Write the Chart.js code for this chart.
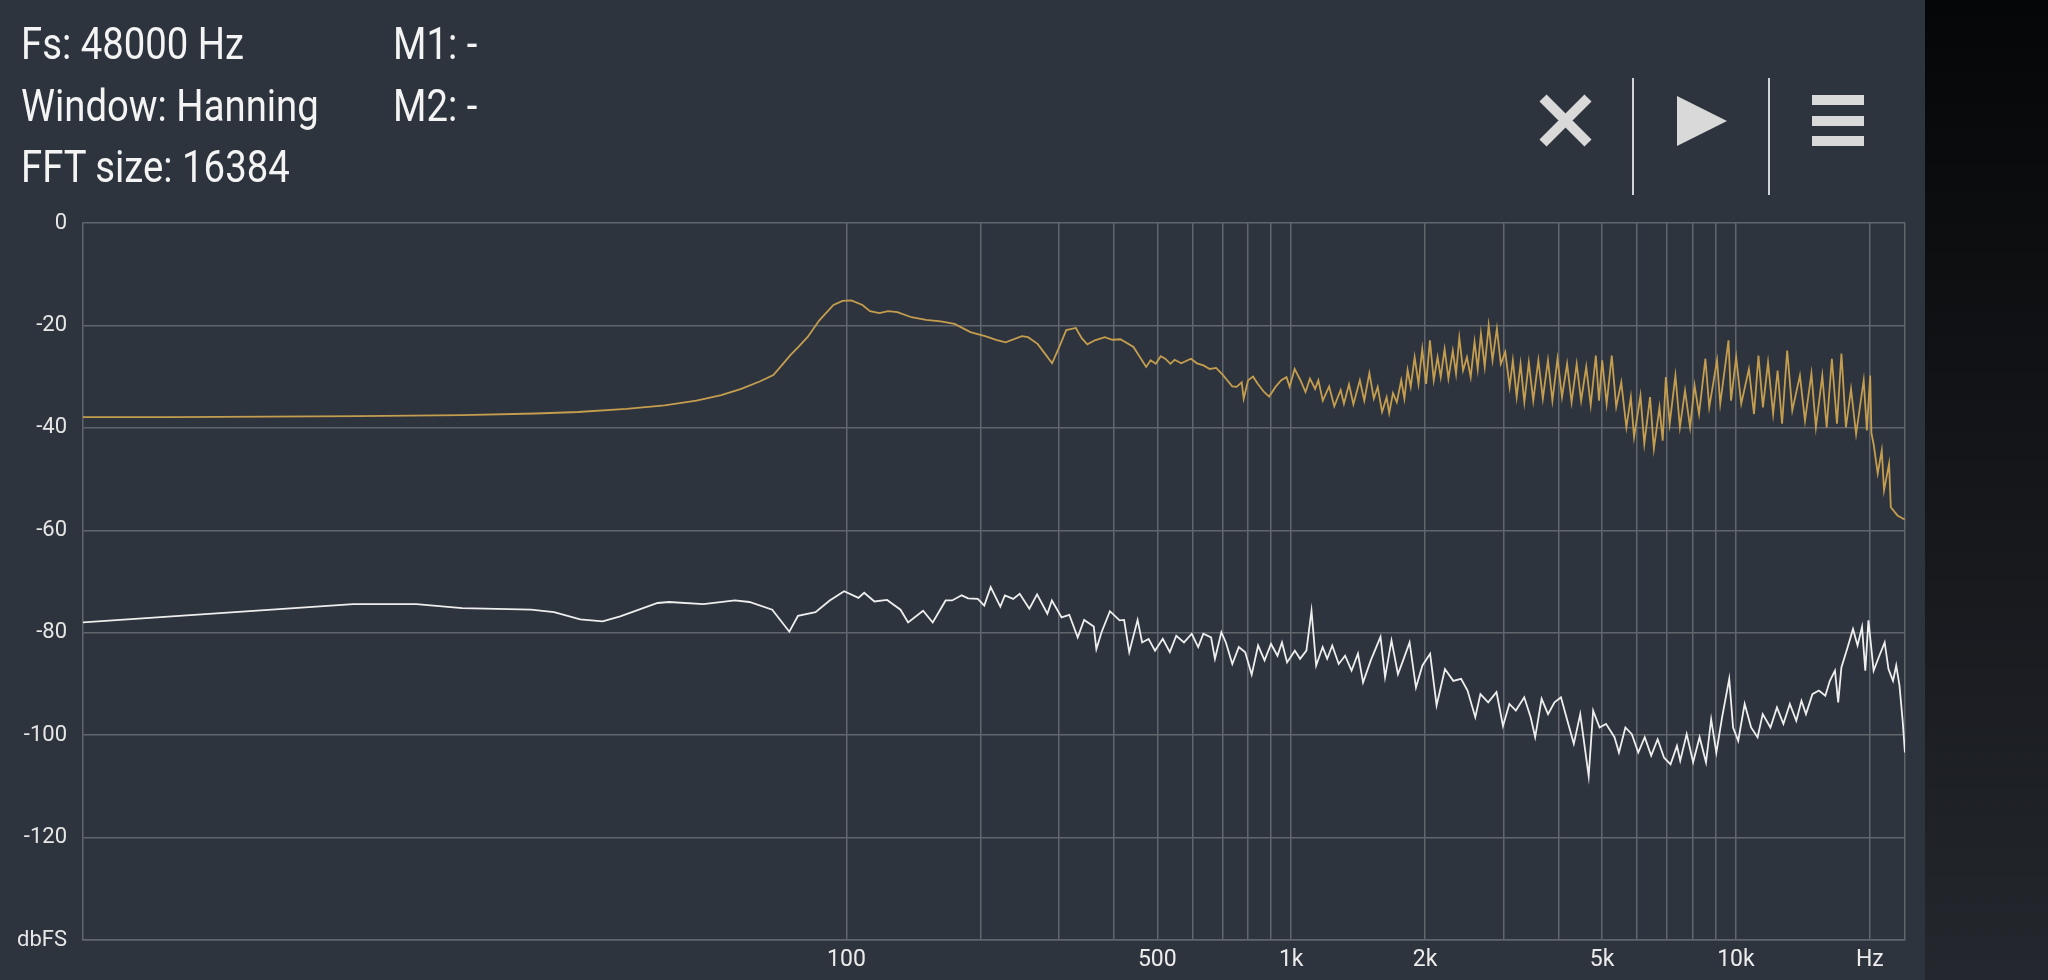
<!DOCTYPE html>
<html>
<head>
<meta charset="utf-8">
<script src="https://cdn.jsdelivr.net/npm/chart.js@4.4.1/dist/chart.umd.min.js"></script>
<style>
  html, body { margin: 0; padding: 0; background: #2e343d; overflow: hidden; }
  #wrap { position: relative; width: 2048px; height: 980px; }
  canvas { position: absolute; left: 0; top: 0; }
  .info {
    position: absolute; font-family: Roboto, sans-serif; font-size: 44px; line-height: 44px;
    color: #f4f4f4; white-space: nowrap; transform: scaleX(0.87); transform-origin: left top;
  }
</style>
</head>
<body>
<div id="wrap">
  <canvas id="spectrum" width="2048" height="980"></canvas>
  <div class="info" style="left:21px; top:22px;">Fs: 48000 Hz</div>
  <div class="info" style="left:21px; top:84px;">Window: Hanning</div>
  <div class="info" style="left:21px; top:145px;">FFT size: 16384</div>
  <div class="info" style="left:393px; top:22px;">M1: -</div>
  <div class="info" style="left:393px; top:84px;">M2: -</div>
</div>
<script>
// gold trace (Hz / dBFS)
const goldFreq = [
  1.92, 3, 5, 8, 13.7, 20, 24.9, 32, 39, 46,
  52.3, 58, 64, 68.5, 72, 74.8, 78, 81.9, 86.9, 93.5,
  98, 102.6, 108.6, 113, 118.6, 124, 130.2, 140, 151, 163,
  175, 190, 205, 217, 228, 248, 256, 269, 280, 290,
  300, 312, 328, 338, 348, 362, 381, 396, 413, 442,
  472, 483, 496, 509, 521, 535, 547, 566, 595, 614,
  635, 656, 678, 701, 718, 737, 754, 774, 782, 800,
  821, 841, 869, 892, 922, 950, 976, 992, 1018, 1049,
  1077, 1102, 1132, 1151, 1178, 1217, 1250, 1292, 1314, 1349,
  1380, 1427, 1460, 1499, 1534, 1565, 1601, 1639, 1661, 1694,
  1728, 1768, 1797, 1827, 1857, 1895, 1933, 1971, 2011, 2051,
  2092, 2134, 2169, 2213, 2257, 2309, 2348, 2388, 2435, 2484,
  2533, 2584, 2627, 2671, 2724, 2780, 2836, 2901, 2960, 3029,
  3099, 3151, 3214, 3279, 3344, 3422, 3502, 3596, 3680, 3779,
  3867, 3971, 4064, 4173, 4271, 4385, 4487, 4607, 4715, 4842,
  4922, 5004, 5121, 5258, 5381, 5524, 5672, 5804, 5902, 6101,
  6223, 6411, 6539, 6732, 6845, 6958, 7097, 7311, 7483, 7684,
  7888, 8073, 8262, 8539, 8710, 9069, 9220, 9623, 9752, 10012,
  10280, 10696, 10983, 11238, 11502, 11809, 12125, 12410, 12700, 13040,
  13390, 13930, 14300, 14785, 15130, 15640, 16000, 16435, 16875, 17270,
  17676, 18150, 18630, 19380, 19700, 20040, 20170, 20420, 20840, 21280,
  21530, 22100, 22300, 23080, 23970
];
const goldDb = [
  -37.9, -37.9, -37.8, -37.7, -37.5, -37.2, -36.9, -36.3, -35.6, -34.7,
  -33.6, -32.4, -30.9, -29.7, -27.5, -25.8, -24.2, -22.2, -19.0, -16.0,
  -15.2, -15.1, -16.0, -17.2, -17.6, -17.2, -17.4, -18.4, -18.9, -19.2,
  -19.7, -21.3, -22.1, -22.8, -23.3, -22.1, -22.3, -23.6, -25.6, -27.4,
  -24.5, -20.9, -20.5, -22.5, -23.7, -22.9, -22.3, -22.8, -22.7, -24.2,
  -28.1, -26.8, -27.5, -26.0, -26.5, -27.5, -26.7, -27.4, -26.5, -27.4,
  -27.8, -28.5, -28.3, -29.6, -30.7, -31.9, -32.0, -31.1, -34.3, -30.7,
  -30.0, -31.4, -33.0, -33.9, -32.0, -30.7, -30.1, -32.0, -28.5, -30.7,
  -33.0, -30.4, -32.4, -30.7, -34.7, -31.9, -35.8, -32.6, -35.3, -31.5,
  -35.4, -30.7, -34.7, -29.3, -34.3, -32.0, -36.9, -34.0, -37.1, -33.2,
  -35.0, -30.7, -34.3, -28.7, -32.0, -26.2, -31.4, -24.6, -31.4, -22.9,
  -30.7, -26.2, -30.1, -24.6, -30.4, -24.9, -29.4, -22.4, -28.8, -26.2,
  -30.1, -23.2, -28.5, -21.6, -28.1, -20.0, -26.8, -20.6, -27.5, -25.2,
  -32.0, -26.8, -34.0, -27.5, -35.0, -27.2, -34.7, -26.8, -34.3, -26.8,
  -34.7, -26.5, -34.0, -27.5, -35.0, -27.5, -34.7, -28.1, -35.6, -25.9,
  -34.7, -26.8, -35.3, -25.9, -35.9, -31.1, -39.9, -34.0, -41.8, -33.7,
  -43.1, -34.0, -44.1, -36.0, -42.5, -30.1, -39.2, -29.8, -39.9, -32.7,
  -39.9, -31.7, -37.3, -26.5, -36.0, -26.8, -35.3, -22.9, -34.7, -26.2,
  -35.3, -28.5, -37.3, -25.9, -36.0, -27.2, -37.3, -28.8, -39.2, -24.9,
  -36.6, -29.8, -38.6, -29.4, -39.9, -29.8, -39.9, -26.5, -39.2, -25.5,
  -39.9, -32.4, -41.2, -30.7, -40.5, -29.8, -41.0, -43.4, -48.9, -44.4,
  -52.2, -47.0, -55.5, -57.1, -57.9
];

// white trace (Hz / dBFS)
const whiteFreq = [
  1.92, 7.78, 10.78, 13.67, 19.54, 22.0, 25.2, 28.3, 31.0, 37.6,
  39.9, 47.7, 56.1, 60.5, 68.1, 74.4, 77.8, 85.2, 91.7, 98.8,
  106.4, 109.6, 115.6, 123.4, 132.3, 137.6, 148.7, 156.3, 167.1, 172.8,
  181.6, 187.7, 197.4, 204.1, 211.0, 221.8, 227.1, 237.1, 245.2, 257.8,
  268.3, 283.0, 289.7, 304.6, 317.0, 331.1, 342.3, 359.8, 364.7, 374.6,
  391.2, 411.3, 421.0, 432.4, 451.5, 462.2, 477.9, 494.1, 514.3, 533.5,
  551.6, 574.1, 597.6, 617.9, 634.6, 660.5, 673.9, 696.6, 713.1, 737.3,
  762.4, 788.2, 815.0, 842.6, 871.2, 900.8, 931.4, 953.4, 979.1, 1019,
  1047, 1082, 1111, 1138, 1177, 1205, 1237, 1279, 1322, 1367,
  1413, 1451, 1510, 1588, 1626, 1681, 1738, 1785, 1846, 1908,
  1973, 2053, 2123, 2217, 2315, 2410, 2492, 2594, 2664, 2773,
  2895, 2994, 3095, 3200, 3342, 3455, 3537, 3657, 3781, 3909,
  4042, 4179, 4320, 4467, 4666, 4775, 4937, 5105, 5333, 5458,
  5643, 5834, 6032, 6237, 6449, 6668, 6894, 7129, 7370, 7495,
  7750, 8013, 8285, 8566, 8798, 9036, 9311, 9660, 9855, 10120,
  10464, 10819, 11186, 11489, 11958, 12368, 12788, 13222, 13671, 14041,
  14373, 14861, 15365, 15887, 16263, 16701, 16982, 17267, 17735, 18336,
  18771, 19214, 19539, 19861, 20400, 20951, 21602, 22033, 22556, 22933,
  23322, 23713, 23990
];
const whiteDb = [
  -78.0, -74.4, -74.4, -75.2, -75.5, -76.0, -77.4, -77.8, -76.8, -74.2,
  -74.0, -74.4, -73.7, -74.0, -75.5, -79.8, -76.7, -76.0, -73.7, -71.9,
  -73.2, -72.2, -73.9, -73.6, -75.5, -78.0, -75.7, -78.0, -73.7, -73.7,
  -72.7, -73.3, -73.4, -74.7, -71.1, -74.9, -72.7, -73.4, -72.4, -75.3,
  -72.5, -76.3, -73.7, -77.0, -76.5, -80.9, -77.5, -78.8, -83.2, -79.9,
  -75.8, -77.6, -77.5, -83.8, -77.5, -81.9, -81.2, -83.5, -81.2, -83.8,
  -80.6, -81.9, -80.2, -82.8, -80.2, -80.9, -85.1, -79.9, -81.9, -86.1,
  -82.8, -83.8, -88.2, -82.5, -85.4, -82.2, -84.5, -81.9, -85.8, -83.5,
  -85.1, -83.5, -75.7, -86.4, -82.8, -85.1, -82.5, -86.1, -84.5, -87.4,
  -84.1, -89.7, -85.4, -80.8, -88.7, -81.5, -88.1, -85.4, -81.9, -90.7,
  -86.4, -84.1, -94.2, -87.1, -89.4, -89.0, -91.3, -96.5, -92.0, -93.6,
  -91.6, -98.2, -93.9, -95.2, -92.6, -96.5, -100.4, -92.9, -95.9, -93.6,
  -92.6, -97.2, -101.7, -95.9, -108.0, -95.2, -98.5, -97.8, -100.4, -103.4,
  -98.5, -99.8, -103.4, -100.4, -104.0, -100.8, -104.4, -105.7, -102.1, -105.0,
  -99.8, -105.3, -100.4, -105.3, -96.9, -103.4, -96.5, -89.0, -98.5, -101.1,
  -93.9, -98.5, -100.4, -95.9, -98.5, -94.6, -97.8, -93.9, -97.2, -93.3,
  -95.9, -92.0, -91.3, -92.3, -89.4, -87.4, -93.6, -86.8, -83.5, -79.3,
  -82.5, -78.9, -87.4, -77.6, -87.4, -84.8, -81.9, -87.1, -89.4, -86.4,
  -90.3, -97.2, -103.4
];

// axes
const xGridFreq = [100, 200, 300, 400, 500, 600, 700, 800, 900,
  1000, 2000, 3000, 4000, 5000, 6000, 7000, 8000, 9000, 10000, 20000, 24000];
const xLabelFreq = [100, 500, 1000, 2000, 5000, 10000, 20000];
const xLabelText = ['100', '500', '1k', '2k', '5k', '10k', 'Hz'];
const yTicks = [0, -20, -40, -60, -80, -100, -120, -140];
const yLabelText = ['0', '-20', '-40', '-60', '-80', '-100', '-120', 'dbFS'];

const gridColor = '#61666d';

const toPoints = (fs, ds) => fs.map((f, i) => ({ x: f, y: ds[i] }));

const backdrop = {
  id: 'backdrop',
  beforeDraw(chart) {
    const c = chart.ctx;
    c.save();
    c.fillStyle = '#2e343d';
    c.fillRect(0, 0, chart.width, chart.height);
    const g = c.createLinearGradient(0, 0, 0, chart.height);
    g.addColorStop(0, '#050607');
    g.addColorStop(1, '#24272d');
    c.fillStyle = g;
    c.fillRect(1925, 0, chart.width - 1925, chart.height);
    c.restore();
  },
  afterDraw(chart) {
    // toolbar icons
    const c = chart.ctx;
    c.save();
    c.strokeStyle = '#d9d9d9';
    c.fillStyle = '#d9d9d9';
    c.lineWidth = 10;
    c.beginPath();
    c.moveTo(1543, 98); c.lineTo(1588, 143);
    c.moveTo(1588, 98); c.lineTo(1543, 143);
    c.stroke();
    c.beginPath();
    c.moveTo(1677, 96); c.lineTo(1727, 121); c.lineTo(1677, 146);
    c.closePath();
    c.fill();
    c.fillRect(1812, 95, 52, 10);
    c.fillRect(1812, 116, 52, 10);
    c.fillRect(1812, 136, 52, 10);
    c.fillStyle = '#cfd2d6';
    c.fillRect(1632, 78, 2, 117);
    c.fillRect(1768, 78, 2, 117);
    c.restore();
  }
};

const ctx = document.getElementById('spectrum').getContext('2d');
const myChart = new Chart(ctx, {
  type: 'line',
  data: {
    datasets: [
      {
        label: 'ch1',
        data: toPoints(goldFreq, goldDb),
        borderColor: '#c49d4f',
        borderWidth: 1.8,
        pointRadius: 0,
        tension: 0
      },
      {
        label: 'ch2',
        data: toPoints(whiteFreq, whiteDb),
        borderColor: '#eeeeee',
        borderWidth: 1.8,
        pointRadius: 0,
        tension: 0
      }
    ]
  },
  options: {
    responsive: false,
    animation: false,
    devicePixelRatio: 1,
    layout: { padding: { left: 0, right: 143, top: 223, bottom: 0 } },
    plugins: { legend: { display: false }, tooltip: { enabled: false } },
    scales: {
      x: {
        type: 'logarithmic',
        min: 1.92,
        max: 24000,
        bounds: 'data',
        afterBuildTicks: s => { s.ticks = xGridFreq.map(v => ({ value: v })); },
        afterFit: s => { s.height = 40; },
        grid: { color: gridColor, lineWidth: 1.5, drawTicks: false },
        border: { color: gridColor, width: 1.5 },
        ticks: {
          autoSkip: false,
          maxRotation: 0,
          padding: 6,
          color: '#ececec',
          font: { family: 'Roboto', size: 23 },
          callback: v => {
            const i = xLabelFreq.indexOf(v);
            return i < 0 ? '' : xLabelText[i];
          }
        }
      },
      y: {
        type: 'linear',
        min: -140,
        max: 0,
        bounds: 'data',
        afterBuildTicks: s => { s.ticks = yTicks.map(v => ({ value: v })); },
        afterFit: s => { s.width = 83; },
        grid: { color: gridColor, lineWidth: 1.5, drawTicks: false },
        border: { color: gridColor, width: 1.5 },
        ticks: {
          padding: 16,
          color: '#e6e6e6',
          font: { family: 'Roboto', size: 22 },
          callback: v => yLabelText[yTicks.indexOf(v)]
        }
      }
    }
  },
  plugins: [backdrop]
});
</script>
</body>
</html>
